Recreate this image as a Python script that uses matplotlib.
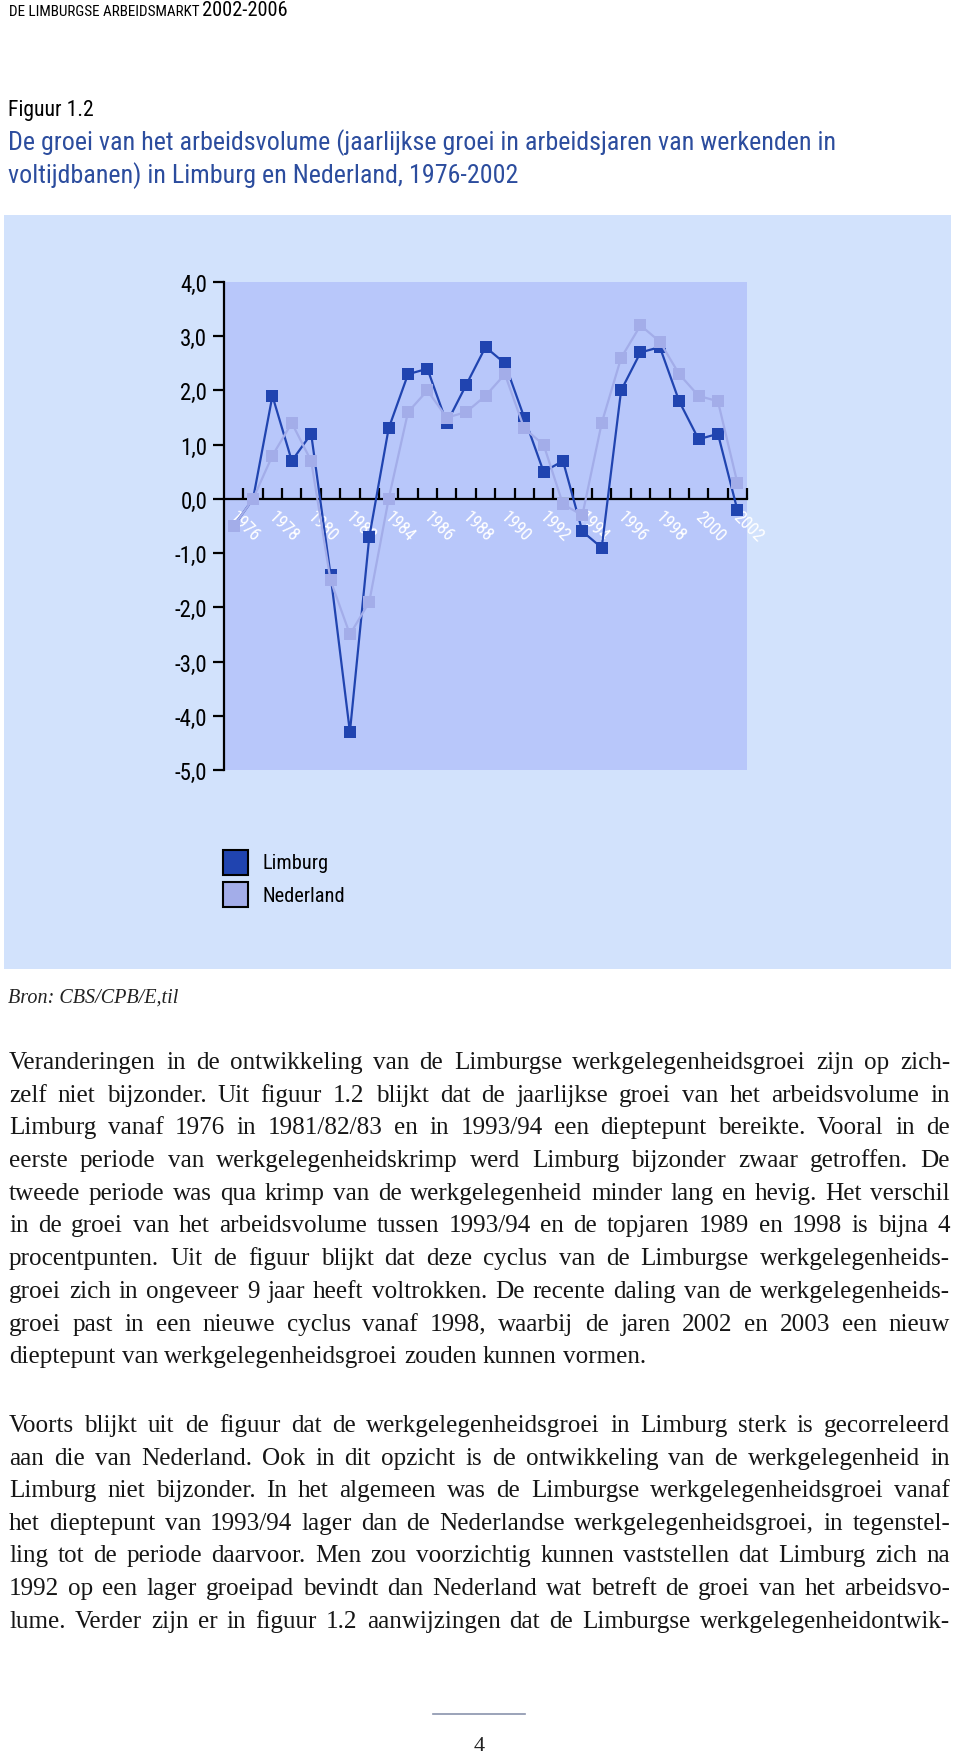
import matplotlib
matplotlib.use("Agg")
import matplotlib.pyplot as plt
from matplotlib import font_manager
from matplotlib.patches import Rectangle
from matplotlib.lines import Line2D
from matplotlib.transforms import ScaledTranslation
import numpy as np

# page size in pixels
W, H = 960, 1756

# data
years = np.arange(1976, 2003)
limburg = [-0.5, 0.0, 1.9, 0.7, 1.2, -1.4, -4.3, -0.7, 1.3, 2.3, 2.4, 1.4, 2.1, 2.8,
           2.5, 1.5, 0.5, 0.7, -0.6, -0.9, 2.0, 2.7, 2.8, 1.8, 1.1, 1.2, -0.2]
nederland = [-0.5, 0.0, 0.8, 1.4, 0.7, -1.5, -2.5, -1.9, 0.0, 1.6, 2.0, 1.5, 1.6, 1.9,
             2.3, 1.3, 1.0, -0.1, -0.3, 1.4, 2.6, 3.2, 2.9, 2.3, 1.9, 1.8, 0.3]
series_names = ["Limburg", "Nederland"]
yticks = list(range(-5, 5))
year_labels = [str(y) for y in years if y % 2 == 0]

header_small = "DE LIMBURGSE ARBEIDSMARKT "
header_big = "2002-2006"
fig_label = "Figuur 1.2"
title_lines = ["De groei van het arbeidsvolume (jaarlijkse groei in arbeidsjaren van werkenden in",
               "voltijdbanen) in Limburg en Nederland, 1976-2002"]
source = "Bron: CBS/CPB/E,til"
page_no = "4"

para1 = [
    "Veranderingen in de ontwikkeling van de Limburgse werkgelegenheidsgroei zijn op zich-",
    "zelf niet bijzonder. Uit figuur 1.2 blijkt dat de jaarlijkse groei van het arbeidsvolume in",
    "Limburg vanaf 1976 in 1981/82/83 en in 1993/94 een dieptepunt bereikte. Vooral in de",
    "eerste periode van werkgelegenheidskrimp werd Limburg bijzonder zwaar getroffen. De",
    "tweede periode was qua krimp van de werkgelegenheid minder lang en hevig. Het verschil",
    "in de groei van het arbeidsvolume tussen 1993/94 en de topjaren 1989 en 1998 is bijna 4",
    "procentpunten. Uit de figuur blijkt dat deze cyclus van de Limburgse werkgelegenheids-",
    "groei zich in ongeveer 9 jaar heeft voltrokken. De recente daling van de werkgelegenheids-",
    "groei past in een nieuwe cyclus vanaf 1998, waarbij de jaren 2002 en 2003 een nieuw",
    "dieptepunt van werkgelegenheidsgroei zouden kunnen vormen.",
]
para2 = [
    "Voorts blijkt uit de figuur dat de werkgelegenheidsgroei in Limburg sterk is gecorreleerd",
    "aan die van Nederland. Ook in dit opzicht is de ontwikkeling van de werkgelegenheid in",
    "Limburg niet bijzonder. In het algemeen was de Limburgse werkgelegenheidsgroei vanaf",
    "het dieptepunt van 1993/94 lager dan de Nederlandse werkgelegenheidsgroei, in tegenstel-",
    "ling tot de periode daarvoor. Men zou voorzichtig kunnen vaststellen dat Limburg zich na",
    "1992 op een lager groeipad bevindt dan Nederland wat betreft de groei van het arbeidsvo-",
    "lume. Verder zijn er in figuur 1.2 aanwijzingen dat de Limburgse werkgelegenheidontwik-",
]

DARK = "#2044b0"
LIGHT = "#a3ade9"
BOX = "#d2e2fc"
INNER = "#b8c7fa"
TITLE_C = "#2c4d9e"

names = {f.name for f in font_manager.fontManager.ttflist}


def pick(*cands):
    for c in cands:
        if c in names:
            return c
    return "DejaVu Sans"


SANS = pick("Liberation Sans Narrow", "Roboto Condensed", "Open Sans Condensed", "Noto Sans", "DejaVu Sans")
SERIF = pick("Liberation Serif", "DejaVu Serif")
plt.rcParams["font.family"] = SANS

fig = plt.figure(figsize=(W / 100, H / 100), dpi=100)
fig.patch.set_facecolor("white")
rend = fig.canvas.get_renderer()


def fx(px):
    return px / W


def fy(py):
    return 1 - py / H


def text_w(s, **kw):
    t = fig.text(0, 0, s, **kw)
    w = t.get_window_extent(rend).width
    t.remove()
    return w


def fit(s, width, **kw):
    return 12 * width / text_w(s, fontsize=12, **kw)


def put(px, py, s, **kw):
    return fig.text(fx(px), fy(py), s, **kw)


# header
hs, hb = 8.5, 11.5
w1 = text_w(header_small, fontsize=hs)
w2 = text_w(header_big, fontsize=hb)
k = 279 / (w1 + w2)
put(9, 16, header_small, fontsize=hs * k, va="baseline", color="black")
put(9 + w1 * k, 16, header_big, fontsize=hb * k, va="baseline", color="black")

# figure number and title
put(8, 116, fig_label, fontsize=fit(fig_label, 85), va="baseline", color="black")
ts = fit(title_lines[0], 828)
put(8, 150, title_lines[0], fontsize=ts, va="baseline", color=TITLE_C)
put(8, 183, title_lines[1], fontsize=ts, va="baseline", color=TITLE_C)

# chart background box
fig.patches.append(Rectangle((fx(4), fy(970)), (951 - 4) / W, (970 - 216) / H,
                             transform=fig.transFigure, fc=BOX, ec="none", zorder=-1))

ax = fig.add_axes([fx(224), fy(771), (747 - 224) / W, (771 - 283) / H])
ax.set_facecolor(INNER)
ax.plot(years, limburg, color=DARK, lw=1.6, marker="s", ms=9, mew=0, zorder=3)
ax.plot(years, nederland, color=LIGHT, lw=1.6, marker="s", ms=9, mew=0, zorder=4)
ax.set_xlim(1975.5, 2002.5)
ax.set_ylim(-5, 4)

for s in ["top", "right"]:
    ax.spines[s].set_visible(False)
ax.spines["left"].set_linewidth(1.6)
ax.spines["bottom"].set_position(("data", 0))
ax.spines["bottom"].set_linewidth(1.6)
ax.spines["bottom"].set_zorder(2)

ysz = fit("4,0", 27)
ax.set_yticks(yticks)
ax.set_yticklabels([f"{v:.1f}".replace(".", ",") for v in yticks], fontsize=ysz)
ax.tick_params(axis="y", direction="out", length=8, width=1.6, pad=4)

ax.set_xticks(np.arange(1976.5, 2003, 1))
ax.tick_params(axis="x", which="major", direction="in", length=8, width=1.6, labelbottom=False)
ax.set_xticks([y for y in years if y % 2 == 0], minor=True)
ax.set_xticklabels(year_labels, minor=True, fontsize=fit("1976", 35), color="white")
ax.tick_params(axis="x", which="minor", length=0, pad=6)
shift = ScaledTranslation(5 / 100, 0, fig.dpi_scale_trans)
for lbl in ax.get_xticklabels(minor=True):
    lbl.set_rotation(-45)
    lbl.set_ha("left")
    lbl.set_va("top")
    lbl.set_rotation_mode("anchor")
    lbl.set_transform(lbl.get_transform() + shift)

# legend
lsz = fit("Nederland", 82)
for i, (name, col) in enumerate(zip(series_names, [DARK, LIGHT])):
    top = 851 + i * 32
    fig.patches.append(Rectangle((fx(223), fy(top + 25)), 25 / W, 25 / H,
                                 transform=fig.transFigure, fc=col, ec="black", lw=1.5))
    put(263, top + 13, name, fontsize=lsz, va="center", color="black")

# source
put(8, 1003, source, fontsize=fit(source, 170, family=SERIF, style="italic"),
    va="baseline", family=SERIF, style="italic", color="#222222")

# body text, justified
X0, X1 = 9, 950
base = 16
nat = [text_w(l, fontsize=base, family=SERIF) for l in para1[:-1] + para2]
bsz = base * (X1 - X0) * 0.975 / max(nat)


def draw_para(lines, y0, dy, last_justified):
    sp = text_w("a b", fontsize=bsz, family=SERIF) - text_w("ab", fontsize=bsz, family=SERIF)
    for i, line in enumerate(lines):
        words = line.split()
        ws = [text_w(w, fontsize=bsz, family=SERIF) for w in words]
        if i == len(lines) - 1 and not last_justified:
            gap = sp
        else:
            gap = (X1 - X0 - sum(ws)) / (len(words) - 1)
        x = X0
        for w, ww in zip(words, ws):
            put(x, y0 + i * dy, w, fontsize=bsz, family=SERIF, va="baseline", color="#161616")
            x += ww + gap


draw_para(para1, 1069, 32.7, False)
draw_para(para2, 1432, 32.6, True)

# page footer
fig.lines.append(Line2D([fx(433), fx(525)], [fy(1715), fy(1715)], transform=fig.transFigure,
                        color="#8a93ad", lw=1.2))
put(479, 1751, page_no, fontsize=16, family=SERIF, ha="center", va="baseline", color="#222222")

fig.savefig("out.png", dpi=100)
